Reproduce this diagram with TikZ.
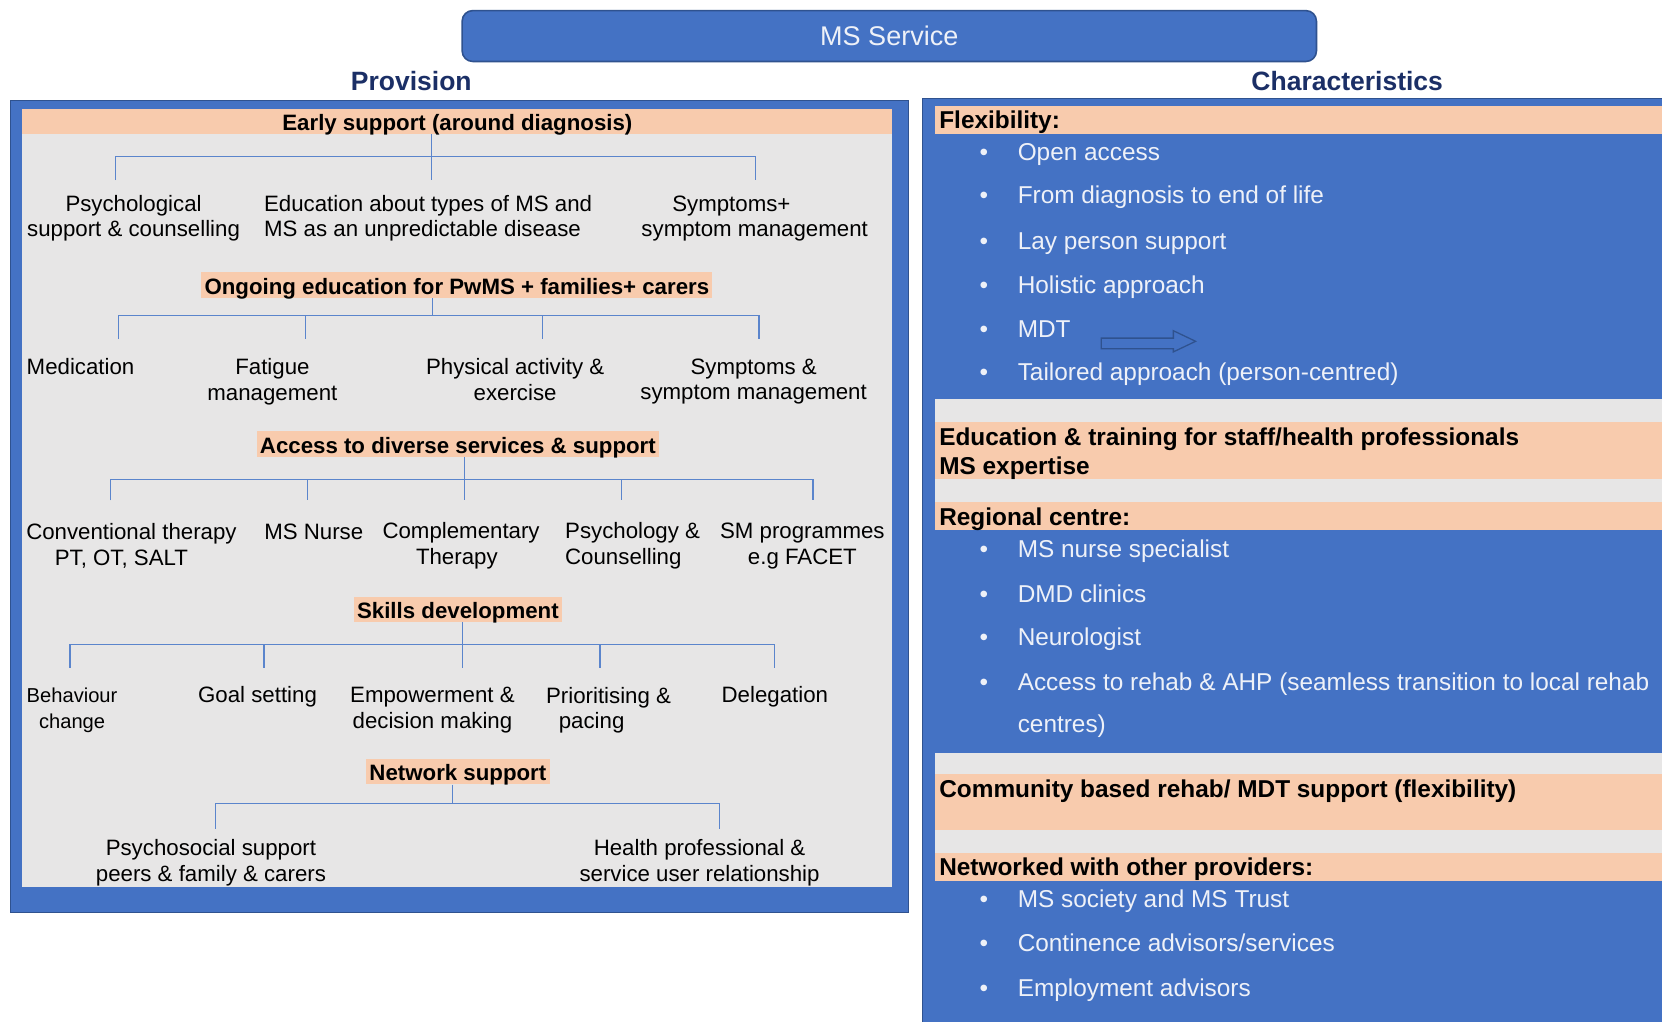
\documentclass[tikz,border=0pt]{standalone}
\usepackage{fontspec}
\setmainfont{Liberation Sans}
\definecolor{msblue}{HTML}{4472C4}
\definecolor{msdark}{HTML}{2F528F}
\definecolor{peach}{HTML}{F8CBAD}
\definecolor{pgray}{HTML}{E7E6E6}
\definecolor{navy}{HTML}{1B2F66}
\definecolor{treeblue}{HTML}{5B85CC}
\definecolor{lighttxt}{HTML}{EEF1F8}
\tikzset{
  txt/.style={font=\fontsize{21}{24}\selectfont, align=center, inner sep=0pt, text=black},
  hdr/.style={font=\bfseries\fontsize{21}{24}\selectfont, fill=peach, inner xsep=3pt, inner ysep=0pt, text height=19.5pt, text depth=2.5pt, minimum height=24pt},
  tree/.style={draw=treeblue, line width=1.1pt},
  bul/.style={font=\fontsize{23}{28}\selectfont, text=lighttxt, anchor=base west, inner sep=0pt},
  rhdr/.style={font=\bfseries\fontsize{23}{28}\selectfont, anchor=base west, inner sep=0pt},
  sect/.style={fill=peach, draw=none},
  gap/.style={fill=pgray, draw=none},
  ttl/.style={font=\bfseries\fontsize{25}{30}\selectfont, text=navy, inner sep=0pt}
}
\newcommand{\bt}{\makebox[36pt][l]{\textbullet}}
\begin{document}
\begin{tikzpicture}[x=1pt,y=-1pt]
\useasboundingbox (0,0) rectangle (1568,964);
\clip (0,0) rectangle (1568,964);
\fill[white] (0,0) rectangle (1568,964);

% top box and titles
\node[rounded corners=10pt, fill=msblue, draw=msdark, line width=1.5pt, minimum width=806pt, minimum height=48pt, font=\fontsize{25.5}{30}\selectfont, text=lighttxt] (ms) at (839,34) {MS Service};
\node[ttl] (prov) at (388,76) {Provision};
\node[ttl] (char) at (1271,76) {Characteristics};

% ---------------- left panel ----------------
\draw[fill=msblue, draw=msdark, line width=0.8pt] (10,95) rectangle (857,861);
\fill[pgray] (21,103) rectangle (842,837);

% headers
\node[hdr, minimum width=821pt, minimum height=23pt, inner xsep=0pt] (h1) at (431.5,114.5) {Early support (around diagnosis)};
\node[hdr] (h2) at (431,269) {Ongoing education for PwMS + families+ carers};
\node[hdr] (h3) at (432,419) {Access to diverse services \& support};
\node[hdr] (h4) at (432,575) {Skills development};
\node[hdr] (h5) at (432,728) {Network support};

% group 1
\node[txt] (p11) at (126,206) {Psychological\\support \& counselling};
\node[txt, align=left, anchor=west] (p12) at (249,206) {Education about types of MS and\\MS as an unpredictable disease};
\node[txt] (p13) at (712,206) {Symptoms+\kern44pt\\symptom management};
% group 2
\node[txt, anchor=west] (p21) at (25,346) {Medication};
\node[txt] (p22) at (257,360) {Fatigue\\management};
\node[txt] (p23) at (486,358) {Physical activity \&\\exercise};
\node[txt] (p24) at (711,360) {Symptoms \&\\symptom management};
% group 3
\node[txt] (p31) at (124,515) {Conventional therapy\\PT, OT, SALT\kern19pt};
\node[txt] (p32) at (296,502) {MS Nurse};
\node[txt] (p33) at (435,515) {Complementary\\Therapy\kern8pt};
\node[txt, align=left, anchor=west] (p34) at (533,515) {Psychology \&\\Counselling};
\node[txt] (p35) at (757,515) {SM programmes\\e.g FACET};
% group 4
\node[txt, font=\fontsize{19}{25}\selectfont] (p41) at (68,670) {Behaviour\\change};
\node[txt] (p42) at (243,657) {Goal setting};
\node[txt] (p43) at (408,670) {Empowerment \&\\decision making};
\node[txt, align=left, anchor=west] (p44) at (515,670) {Prioritising \&\\\kern12pt pacing};
\node[txt] (p45) at (731,657) {Delegation};
% group 5
\node[txt] (p51) at (199,814) {Psychosocial support\\peers \& family \& carers};
\node[txt] (p52) at (660,814) {Health professional \&\\service user relationship};

% tree connectors: group 1
\coordinate (m1) at (407,170);
\coordinate (b1) at (407,148);
\coordinate (d11) at (109,170);
\coordinate (d13) at (713,170);
\draw[tree] (h1.south -| m1) -- (m1);
\draw[tree] (d11) -- (d11 |- b1) -- (d13 |- b1) -- (d13);
% group 2
\coordinate (b2) at (408,298);
\coordinate (d21) at (112,320);
\coordinate (d22) at (288,320);
\coordinate (d23) at (512,320);
\coordinate (d24) at (716,320);
\draw[tree] (h2.south -| b2) -- (b2);
\draw[tree] (d21) -- (d21 |- b2) -- (d24 |- b2) -- (d24);
\draw[tree] (d22 |- b2) -- (d22);
\draw[tree] (d23 |- b2) -- (d23);
% group 3
\coordinate (b3) at (438,452);
\coordinate (d31) at (104,472);
\coordinate (d32) at (290,472);
\coordinate (d33) at (438,472);
\coordinate (d34) at (586,472);
\coordinate (d35) at (767,472);
\draw[tree] (h3.south -| d33) -- (d33);
\draw[tree] (d31) -- (d31 |- b3) -- (d35 |- b3) -- (d35);
\draw[tree] (d32 |- b3) -- (d32);
\draw[tree] (d34 |- b3) -- (d34);
% group 4
\coordinate (b4) at (436,608);
\coordinate (d41) at (66,630);
\coordinate (d42) at (249,630);
\coordinate (d43) at (436,630);
\coordinate (d44) at (566,630);
\coordinate (d45) at (731,630);
\draw[tree] (h4.south -| d43) -- (d43);
\draw[tree] (d41) -- (d41 |- b4) -- (d45 |- b4) -- (d45);
\draw[tree] (d42 |- b4) -- (d42);
\draw[tree] (d44 |- b4) -- (d44);
% group 5
\coordinate (b5) at (427,758);
\coordinate (d51) at (203,782);
\coordinate (d52) at (679,782);
\draw[tree] (h5.south -| b5) -- (b5);
\draw[tree] (d51) -- (d51 |- b5) -- (d52 |- b5) -- (d52);

% ---------------- right panel ----------------
\draw[fill=msblue, draw=msdark, line width=0.8pt] (870,93) rectangle (1590,990);
\fill[sect] (882,100) rectangle (1590,126);
\fill[gap] (882,376) rectangle (1590,398);
\fill[sect] (882,398) rectangle (1590,452);
\fill[gap] (882,452) rectangle (1590,474);
\fill[sect] (882,474) rectangle (1590,500);
\fill[gap] (882,710) rectangle (1590,730);
\fill[sect] (882,730) rectangle (1590,783);
\fill[gap] (882,783) rectangle (1590,805);
\fill[sect] (882,805) rectangle (1590,831);

\node[rhdr] (flex) at (886,121) {Flexibility:};
\node[bul] (f1) at (924,151) {\bt Open access};
\node[bul] (f2) at (924,192) {\bt From diagnosis to end of life};
\node[bul] (f3) at (924,235) {\bt Lay person support};
\node[bul] (f4) at (924,277) {\bt Holistic approach};
\node[bul] (f5) at (924,318) {\bt MDT};
\node[bul] (f6) at (924,359) {\bt Tailored approach (person-centred)};
\draw[draw=msdark, line width=1.2pt, fill=msblue] (1039,319) -- (1107,319) -- (1107,312) -- (1128,322) -- (1107,332) -- (1107,329) -- (1039,329) -- cycle;

\node[rhdr] (edu1) at (886,420) {Education \& training for staff/health professionals};
\node[rhdr] (edu2) at (886,448) {MS expertise};

\node[rhdr] (reg) at (886,496) {Regional centre:};
\node[bul] (r1) at (924,526) {\bt MS nurse specialist};
\node[bul] (r2) at (924,568) {\bt DMD clinics};
\node[bul] (r3) at (924,609) {\bt Neurologist};
\node[bul] (r4) at (924,651) {\bt Access to rehab \& AHP (seamless transition to local rehab};
\node[bul] (r5) at (960,691) {centres)};

\node[rhdr] (comm) at (886,752) {Community based rehab/ MDT support (flexibility)};

\node[rhdr] (netw) at (886,826) {Networked with other providers:};
\node[bul] (n1) at (924,856) {\bt MS society and MS Trust};
\node[bul] (n2) at (924,898) {\bt Continence advisors/services};
\node[bul] (n3) at (924,940) {\bt Employment advisors};
\end{tikzpicture}
\end{document}
